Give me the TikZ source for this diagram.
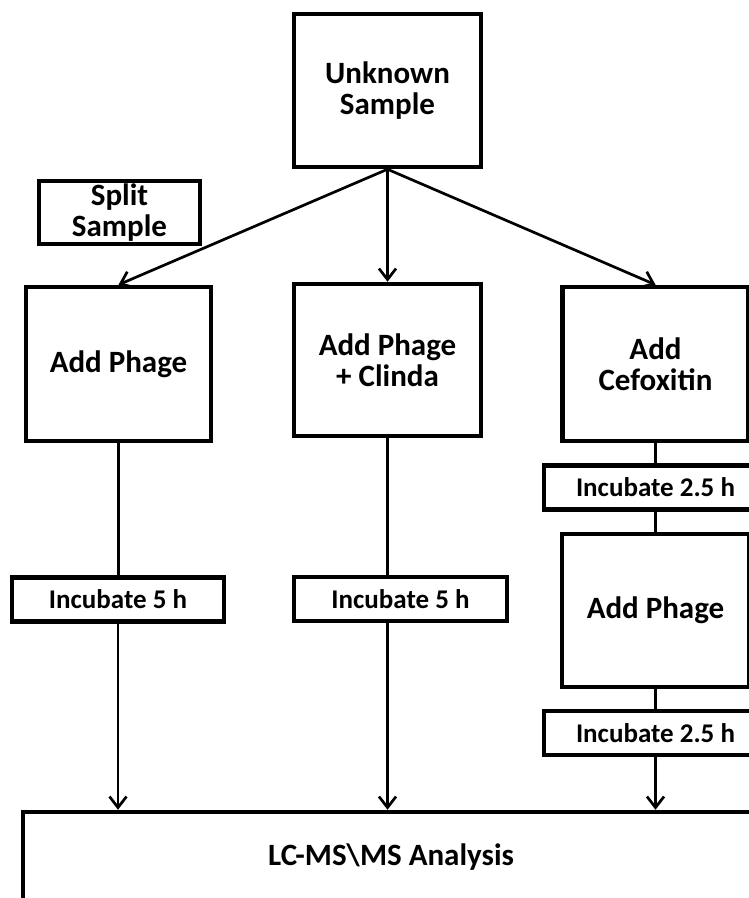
\documentclass[tikz,border=0pt]{standalone}
\usepackage{fontspec}
\setmainfont{Carlito}
\usetikzlibrary{arrows.meta}

\begin{document}
\begin{tikzpicture}[
        x=1pt, y=-1pt,
        every node/.style={draw, line width=4.5pt, inner sep=0pt, align=center,
            font=\fontsize{31}{31}\selectfont\bfseries},
        bigbox/.style={minimum width=187pt, minimum height=153pt},
        incbox/.style={minimum height=44pt, font=\fontsize{27}{30}\selectfont\bfseries},
        link/.style={line width=2.7pt},
        flow/.style={line width=2.7pt, -{Straight Barb[length=11pt, width=17pt]}},
    ]

    \useasboundingbox (0, 0) rectangle (749, 898);

    % Sample and split.
    \node[bigbox] (unknown) at (387.5, 90.5) {Unknown\\Sample};
    \node[minimum width=161pt, minimum height=63pt] (split) at (119.5, 212.5) {Split\\Sample};

    % Three treatments.
    \node[bigbox, minimum width=185pt, minimum height=154pt] (phage) at (118.5, 364) {Add Phage};
    \node[bigbox, minimum height=152pt] (clinda) at (387.5, 360) {Add Phage\\+ Clinda};
    \node[bigbox, minimum width=186pt, minimum height=154pt] (cefox) at (655.5, 364) {Add\\Cefoxitin};

    % Incubation steps.
    \node[incbox, minimum width=212pt] (incL) at (118, 599.5) {Incubate 5 h};
    \node[incbox, minimum width=213pt] (incM) at (400.5, 599) {Incubate 5 h};
    \node[incbox, minimum width=223pt] (incA) at (655.5, 487.5) {Incubate 2.5 h};
    \node[bigbox] (phageB) at (655.5, 610.5) {Add Phage};
    \node[incbox, minimum width=223pt] (incB) at (655.5, 733) {Incubate 2.5 h};

    % Analysis.
    \node[minimum width=736pt, minimum height=90pt] (lcms) at (391, 857) {LC-MS\textbackslash MS Analysis};

    \draw[flow] (unknown.south) -- (phage.north);
    \draw[flow] (unknown.south) -- (clinda.north);
    \draw[flow] (unknown.south) -- (cefox.north);

    \draw[link] (phage.south) -- (phage.south |- incL.north);
    \draw[flow] (incL.south) -- (incL.south |- lcms.north);

    \draw[link] (clinda.south) -- (clinda.south |- incM.north);
    \draw[flow] (clinda.south |- incM.south) -- (clinda.south |- lcms.north);

    \draw[link] (cefox.south) -- (incA.north);
    \draw[link] (incA.south) -- (phageB.north);
    \draw[link] (phageB.south) -- (incB.north);
    \draw[flow] (incB.south) -- (incB.south |- lcms.north);
\end{tikzpicture}
\end{document}
